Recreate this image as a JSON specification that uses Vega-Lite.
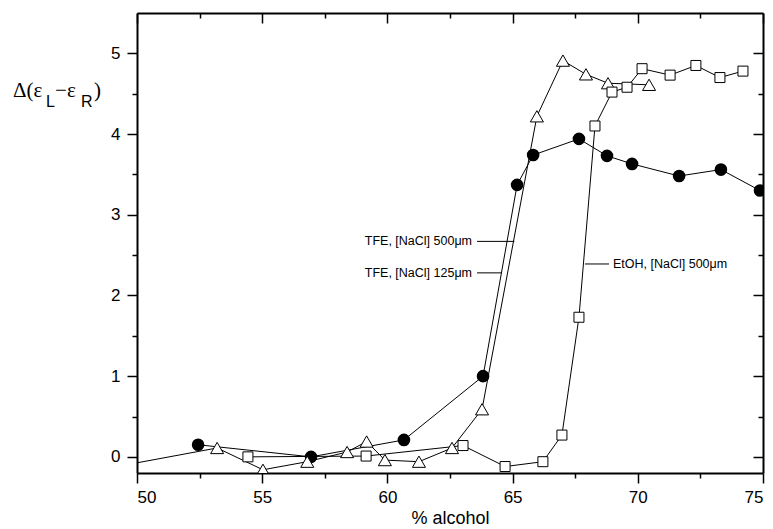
{
  "$schema": "https://vega.github.io/schema/vega-lite/v6.json",
  "width": 626,
  "height": 460,
  "autosize": {"type": "none"},
  "padding": {"left": 137, "top": 13, "right": 10, "bottom": 56},
  "background": "white",
  "config": {
    "view": {"stroke": null},
    "axis": {
      "grid": false,
      "domainColor": "black",
      "domainWidth": 2,
      "tickColor": "black",
      "tickWidth": 1.5,
      "labelColor": "black",
      "labelFont": "Liberation Sans",
      "labelFontSize": 17,
      "titleColor": "black",
      "titleFont": "Liberation Sans",
      "titleFontWeight": "normal"
    }
  },
  "datasets": {
    "series": [
      {"series": "TFE125", "x": 52.44, "y": 0.15},
      {"series": "TFE125", "x": 56.95, "y": 0.0},
      {"series": "TFE125", "x": 60.66, "y": 0.21},
      {"series": "TFE125", "x": 63.82, "y": 1.0},
      {"series": "TFE125", "x": 65.18, "y": 3.37},
      {"series": "TFE125", "x": 65.82, "y": 3.74},
      {"series": "TFE125", "x": 67.65, "y": 3.94},
      {"series": "TFE125", "x": 68.77, "y": 3.73},
      {"series": "TFE125", "x": 69.77, "y": 3.63},
      {"series": "TFE125", "x": 71.65, "y": 3.48},
      {"series": "TFE125", "x": 73.32, "y": 3.56},
      {"series": "TFE125", "x": 74.88, "y": 3.3},
      {"series": "TFE500", "x": 48.5, "y": -0.16},
      {"series": "TFE500", "x": 53.2, "y": 0.11},
      {"series": "TFE500", "x": 55.03, "y": -0.16},
      {"series": "TFE500", "x": 56.8, "y": -0.06},
      {"series": "TFE500", "x": 58.39, "y": 0.06},
      {"series": "TFE500", "x": 59.17, "y": 0.19},
      {"series": "TFE500", "x": 59.9, "y": -0.04},
      {"series": "TFE500", "x": 61.26, "y": -0.06},
      {"series": "TFE500", "x": 62.58, "y": 0.11},
      {"series": "TFE500", "x": 63.78, "y": 0.59},
      {"series": "TFE500", "x": 65.97, "y": 4.22},
      {"series": "TFE500", "x": 67.01, "y": 4.91},
      {"series": "TFE500", "x": 67.93, "y": 4.74},
      {"series": "TFE500", "x": 68.81, "y": 4.63},
      {"series": "TFE500", "x": 70.45, "y": 4.61},
      {"series": "EtOH500", "x": 54.43, "y": 0.0},
      {"series": "EtOH500", "x": 59.15, "y": 0.01},
      {"series": "EtOH500", "x": 63.02, "y": 0.14},
      {"series": "EtOH500", "x": 64.7, "y": -0.12},
      {"series": "EtOH500", "x": 66.21, "y": -0.06},
      {"series": "EtOH500", "x": 66.97, "y": 0.27},
      {"series": "EtOH500", "x": 67.65, "y": 1.73},
      {"series": "EtOH500", "x": 68.29, "y": 4.1},
      {"series": "EtOH500", "x": 68.97, "y": 4.52},
      {"series": "EtOH500", "x": 69.57, "y": 4.58},
      {"series": "EtOH500", "x": 70.17, "y": 4.81},
      {"series": "EtOH500", "x": 71.29, "y": 4.73},
      {"series": "EtOH500", "x": 72.32, "y": 4.85},
      {"series": "EtOH500", "x": 73.28, "y": 4.7},
      {"series": "EtOH500", "x": 74.2, "y": 4.78}
    ],
    "labelsRight": [
      {"x": 63.38, "y": 2.67, "t": "TFE, [NaCl] 500μm"},
      {"x": 63.38, "y": 2.28, "t": "TFE, [NaCl] 125μm"}
    ],
    "labelsLeft": [
      {"x": 69.01, "y": 2.39, "t": "EtOH, [NaCl] 500μm"}
    ],
    "leaders": [
      {"x": 63.58, "x2": 65.07, "y": 2.67},
      {"x": 63.58, "x2": 64.58, "y": 2.28},
      {"x": 67.89, "x2": 68.85, "y": 2.39}
    ],
    "ytitle": [
      {"x": 45.05, "y": 4.455, "t": "Δ(ε"},
      {"x": 46.73, "y": 4.455, "t": "−ε"},
      {"x": 48.28, "y": 4.455, "t": ")"}
    ],
    "ysub": [
      {"x": 46.37, "y": 4.455, "t": "L"},
      {"x": 47.76, "y": 4.455, "t": "R"}
    ]
  },
  "resolve": {"axis": {"x": "independent", "y": "independent"}},
  "layer": [
    {
      "data": {"name": "series"},
      "mark": {"type": "line", "color": "black", "strokeWidth": 1, "clip": true},
      "encoding": {
        "x": {"field": "x", "type": "quantitative", "scale": {"domain": [50, 75], "nice": false, "zero": false},
          "axis": {"orient": "bottom", "values": [50, 55, 60, 65, 70, 75], "tickSize": 10, "labelPadding": 6, "title": "% alcohol", "titleFontSize": 18, "titlePadding": 4}},
        "y": {"field": "y", "type": "quantitative", "scale": {"domain": [-0.2, 5.5], "nice": false, "zero": false},
          "axis": {"orient": "left", "values": [0, 1, 2, 3, 4, 5], "tickSize": 10, "labelPadding": 7, "title": null}},
        "detail": {"field": "series"}
      }
    },
    {
      "data": {"name": "series"},
      "transform": [{"filter": "datum.series === 'TFE125'"}],
      "mark": {"type": "point", "shape": "circle", "filled": true, "fill": "black", "stroke": "black", "opacity": 1, "size": 113, "clip": true},
      "encoding": {
        "x": {"field": "x", "type": "quantitative",
          "axis": {"orient": "bottom", "values": [52.5, 57.5, 62.5, 67.5, 72.5], "tickSize": 5, "labels": false, "domain": false, "title": null}},
        "y": {"field": "y", "type": "quantitative",
          "axis": {"orient": "left", "values": [0.5, 1.5, 2.5, 3.5, 4.5], "tickSize": 5, "labels": false, "domain": false, "title": null}}
      }
    },
    {
      "data": {"name": "series"},
      "transform": [{"filter": "datum.series === 'TFE500'"}],
      "mark": {"type": "point", "shape": "triangle-up", "filled": true, "fill": "white", "stroke": "black", "strokeWidth": 1, "opacity": 1, "size": 170, "clip": true},
      "encoding": {
        "x": {"field": "x", "type": "quantitative",
          "axis": {"orient": "top", "values": [50, 55, 60, 65, 70, 75], "tickSize": -10, "labels": false, "title": null}},
        "y": {"field": "y", "type": "quantitative",
          "axis": {"orient": "right", "values": [0, 1, 2, 3, 4, 5], "tickSize": -10, "labels": false, "title": null}}
      }
    },
    {
      "data": {"name": "series"},
      "transform": [{"filter": "datum.series === 'EtOH500'"}],
      "mark": {"type": "point", "shape": "square", "filled": true, "fill": "white", "stroke": "black", "strokeWidth": 1, "opacity": 1, "size": 100, "clip": true},
      "encoding": {
        "x": {"field": "x", "type": "quantitative",
          "axis": {"orient": "top", "values": [52.5, 57.5, 62.5, 67.5, 72.5], "tickSize": -5, "labels": false, "domain": false, "title": null}},
        "y": {"field": "y", "type": "quantitative",
          "axis": {"orient": "right", "values": [0.5, 1.5, 2.5, 3.5, 4.5], "tickSize": -5, "labels": false, "domain": false, "title": null}}
      }
    },
    {
      "data": {"name": "leaders"},
      "mark": {"type": "rule", "color": "black", "strokeWidth": 1},
      "encoding": {
        "x": {"field": "x", "type": "quantitative", "axis": null},
        "x2": {"field": "x2"},
        "y": {"field": "y", "type": "quantitative", "axis": null}
      }
    },
    {
      "data": {"name": "labelsRight"},
      "mark": {"type": "text", "align": "right", "baseline": "middle", "font": "Liberation Sans", "fontSize": 12.5, "color": "black"},
      "encoding": {
        "x": {"field": "x", "type": "quantitative", "axis": null},
        "y": {"field": "y", "type": "quantitative", "axis": null},
        "text": {"field": "t"}
      }
    },
    {
      "data": {"name": "labelsLeft"},
      "mark": {"type": "text", "align": "left", "baseline": "middle", "font": "Liberation Sans", "fontSize": 12.5, "color": "black"},
      "encoding": {
        "x": {"field": "x", "type": "quantitative", "axis": null},
        "y": {"field": "y", "type": "quantitative", "axis": null},
        "text": {"field": "t"}
      }
    },
    {
      "data": {"name": "ytitle"},
      "mark": {"type": "text", "align": "left", "baseline": "alphabetic", "font": "Liberation Serif", "fontSize": 21, "color": "black"},
      "encoding": {
        "x": {"field": "x", "type": "quantitative", "axis": null},
        "y": {"field": "y", "type": "quantitative", "axis": null},
        "text": {"field": "t"}
      }
    },
    {
      "data": {"name": "ysub"},
      "mark": {"type": "text", "align": "left", "baseline": "alphabetic", "dy": 10, "font": "Liberation Sans", "fontSize": 16, "color": "black"},
      "encoding": {
        "x": {"field": "x", "type": "quantitative", "axis": null},
        "y": {"field": "y", "type": "quantitative", "axis": null},
        "text": {"field": "t"}
      }
    }
  ]
}
